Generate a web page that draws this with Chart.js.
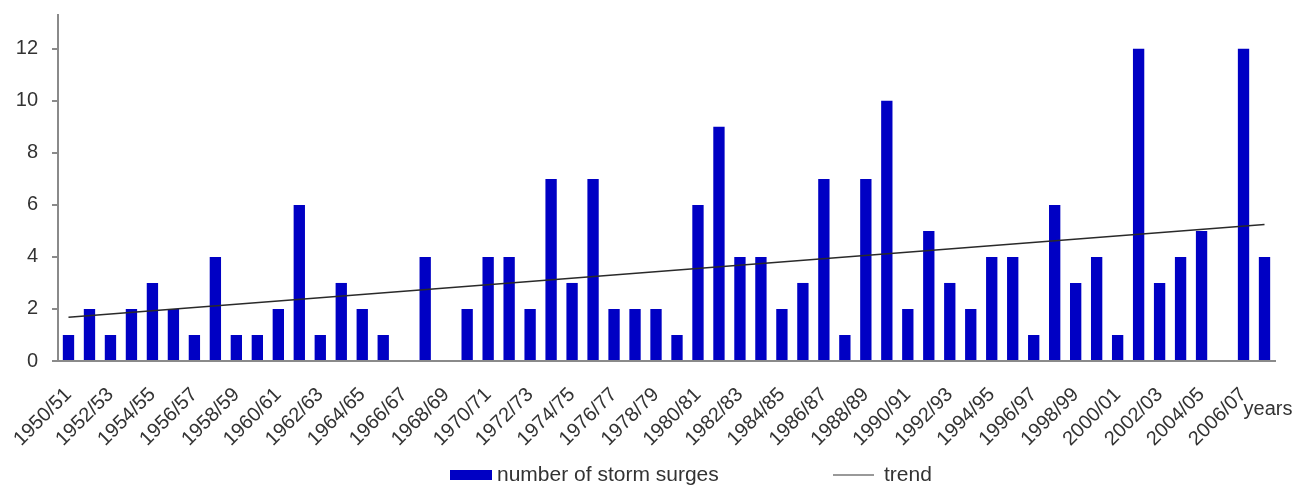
<!DOCTYPE html>
<html>
<head>
<meta charset="utf-8">
<script src="https://cdn.jsdelivr.net/npm/chart.js@4"></script>
<style>
  html, body { margin: 0; padding: 0; background: #fff; }
  #wrap { width: 1302px; height: 487px; position: relative; }
</style>
</head>
<body>
<div id="wrap"><canvas id="stormChart"></canvas></div>
<script>
const seasons = [
  '1950/51', '1951/52', '1952/53', '1953/54', '1954/55', '1955/56', '1956/57', '1957/58', '1958/59', '1959/60',
  '1960/61', '1961/62', '1962/63', '1963/64', '1964/65', '1965/66', '1966/67', '1967/68', '1968/69', '1969/70',
  '1970/71', '1971/72', '1972/73', '1973/74', '1974/75', '1975/76', '1976/77', '1977/78', '1978/79', '1979/80',
  '1980/81', '1981/82', '1982/83', '1983/84', '1984/85', '1985/86', '1986/87', '1987/88', '1988/89', '1989/90',
  '1990/91', '1991/92', '1992/93', '1993/94', '1994/95', '1995/96', '1996/97', '1997/98', '1998/99', '1999/00',
  '2000/01', '2001/02', '2002/03', '2003/04', '2004/05', '2005/06', '2006/07', '2007/08'
];
const surges = [
  1, 2, 1, 2, 3, 2, 1, 4, 1, 1,
  2, 6, 1, 3, 2, 1, 0, 4, 0, 2,
  4, 4, 2, 7, 3, 7, 2, 2, 2, 1,
  6, 9, 4, 4, 2, 3, 7, 1, 7, 10,
  2, 5, 3, 2, 4, 4, 1, 6, 3, 4,
  1, 12, 3, 4, 5, 0, 12, 4
];
// trend line values at the first and last season
const trendEnds = [1.68, 5.25];
const yTicks = [0, 2, 4, 6, 8, 10, 12];

const barColor = '#0000c4';
const trendColor = '#2a2a2a';
const axisColor = '#8a8a8a';
const textColor = '#333333';
const fontFamily = '"Liberation Sans", Arial, sans-serif';

const trendData = seasons.map((s, i) => {
  if (i === 0) return trendEnds[0];
  if (i === seasons.length - 1) return trendEnds[1];
  return null;
});

// legend + "years" label drawn under the axis
const extraText = {
  id: 'extraText',
  afterDraw(chart) {
    const { ctx, chartArea } = chart;
    const xScale = chart.scales.x;
    ctx.save();
    ctx.font = '20px ' + fontFamily;
    ctx.fillStyle = textColor;
    ctx.textBaseline = 'middle';
    ctx.textAlign = 'left';

    // "years" next to the last tick label
    const lastX = xScale.getPixelForValue(seasons.length - 1);
    ctx.fillText('years', lastX - 21, chartArea.bottom + 48);

    // legend row
    ctx.font = '21px ' + fontFamily;
    const ly = chartArea.bottom + 114;
    const lx = 450;
    ctx.fillStyle = barColor;
    ctx.fillRect(lx, ly - 5, 42, 10);
    ctx.fillStyle = textColor;
    ctx.fillText(chart.data.datasets[1].label, lx + 47, ly);

    const tx = 833;
    ctx.strokeStyle = '#777';
    ctx.lineWidth = 1.5;
    ctx.beginPath();
    ctx.moveTo(tx, ly);
    ctx.lineTo(tx + 41, ly);
    ctx.stroke();
    ctx.fillText(chart.data.datasets[0].label, tx + 51, ly);
    ctx.restore();
  }
};

const ctx = document.getElementById('stormChart');

const stormChart = new Chart(ctx, {
  type: 'bar',
  data: {
    labels: seasons,
    datasets: [{
      type: 'line',
      label: 'trend',
      data: trendData,
      borderColor: trendColor,
      borderWidth: 1.5,
      pointRadius: 0,
      spanGaps: true,
      fill: false,
      order: 0
    }, {
      type: 'bar',
      label: 'number of storm surges',
      data: surges,
      backgroundColor: barColor,
      borderWidth: 0,
      barPercentage: 0.54,
      categoryPercentage: 1.0,
      order: 1
    }]
  },
  options: {
    responsive: true,
    maintainAspectRatio: false,
    animation: false,
    layout: {
      padding: { top: 15, right: 27, bottom: 0, left: 0 }
    },
    scales: {
      x: {
        grid: { display: false },
        border: { display: true, color: axisColor, width: 2 },
        ticks: {
          autoSkip: false,
          minRotation: 45,
          maxRotation: 45,
          padding: 14,
          color: textColor,
          font: { family: fontFamily, size: 20 },
          callback: function (value, index) {
            return index % 2 === 0 ? seasons[index] : '';
          }
        },
        afterFit: function (scale) {
          scale.height = 126;
        }
      },
      y: {
        min: 0,
        max: 13.3,
        grid: {
          display: true,
          drawOnChartArea: false,
          drawTicks: true,
          tickLength: 6,
          color: axisColor,
          lineWidth: 2
        },
        border: { display: true, color: axisColor, width: 2 },
        ticks: {
          stepSize: 2,
          padding: 14,
          color: textColor,
          font: { family: fontFamily, size: 20 }
        },
        afterBuildTicks: function (scale) {
          scale.ticks = yTicks.map(v => ({ value: v }));
        },
        afterFit: function (scale) {
          scale.width = 58;
          scale.paddingTop = 0;
          scale.paddingBottom = 0;
        }
      }
    },
    plugins: {
      legend: { display: false },
      tooltip: { enabled: false },
      title: { display: false }
    }
  },
  plugins: [extraText]
});
</script>
</body>
</html>
